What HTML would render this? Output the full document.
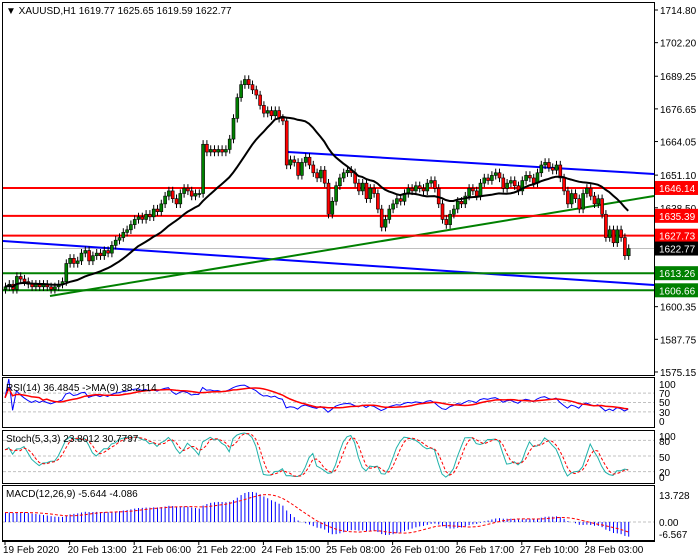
<!DOCTYPE html>
<html><head><meta charset="utf-8"><style>
body{margin:0;background:#fff;}
svg{display:block;font-family:"Liberation Sans",sans-serif;}
</style></head><body>
<svg id="c" width="700" height="560" viewBox="0 0 700 560"></svg>
<script>
const closes=[1608,1609,1607,1612,1611,1610,1609,1608,1609,1608,1609,1608,1607,1608,1609,
1610,1617,1619,1617,1618,1621,1622,1618,1620,1621,1620,1622,1621,1624,1626,
1627,1629,1630,1632,1634,1635,1634,1636,1635,1638,1637,1640,1643,1645,1642,
1640,1644,1646,1645,1643,1644,1644,1663,1660,1661,1660,1661,1660,1661,1665,
1673,1681,1686,1688,1686,1684,1682,1678,1675,1676,1674,1676,1673,1672,1655,
1657,1656,1651,1656,1658,1655,1652,1650,1653,1648,1636,1641,1647,1650,1652,
1653,1652,1648,1645,1648,1642,1646,1644,1638,1631,1634,1638,1640,1642,1641,
1644,1646,1645,1647,1646,1645,1648,1649,1646,1640,1634,1632,1636,1638,1641,
1640,1643,1646,1645,1643,1648,1650,1649,1651,1652,1650,1646,1648,1649,1647,
1645,1649,1651,1650,1648,1652,1655,1656,1654,1653,1655,1650,1645,1640,1644,
1642,1638,1644,1646,1643,1640,1642,1636,1627,1630,1625,1630,1627,1620,1622.77];
const dateLabels=["19 Feb 2020","20 Feb 13:00","21 Feb 06:00","21 Feb 22:00","24 Feb 15:00","25 Feb 08:00","26 Feb 01:00","26 Feb 17:00","27 Feb 10:00","28 Feb 03:00"];
const priceTicks=[1714.80,1702.20,1689.25,1676.65,1664.05,1651.10,1638.50,1625.90,1600.35,1587.75,1575.15];
const redLevels=[1646.14,1635.39,1627.73];
const greenLevels=[1613.26,1606.66];
const lastPrice=1622.77;
const NS="http://www.w3.org/2000/svg";
const svg=document.getElementById('c');
const FS=10;
function el(t,a,p){const e=document.createElementNS(NS,t);for(const k in a)e.setAttribute(k,a[k]);(p||svg).appendChild(e);return e;}
const yP=p=>10+(1714.8-p)*2.592;
const xI=i=>5+i*3.8;
const n=closes.length;
const opens=closes.map((c,i)=>i?closes[i-1]:c-1);
const highs=closes.map((c,i)=>Math.max(c,opens[i])+1.6);
const lows=closes.map((c,i)=>Math.min(c,opens[i])-1.6);

const panels=[[2,2,375,'main-panel'],[2,377,427,'rsi-panel'],[2,430,483,'stoch-panel'],[2,485,540,'macd-panel']];
panels.forEach(p=>{const r=el('rect',{x:2.5,y:p[1]+.5,width:652,height:p[2]-p[1],fill:'#fff',stroke:'#000','stroke-width':1});
});
el('line',{x1:2,y1:541.5,x2:655,y2:541.5,stroke:'#000'});

priceTicks.forEach(p=>{const y=yP(p);el('line',{x1:654,y1:y,x2:658,y2:y,stroke:'#000'});
const t=el('text',{x:660,y:y+4,'font-size':FS,fill:'#000'});t.textContent=p.toFixed(2);
});

el('line',{x1:3,y1:yP(lastPrice),x2:654,y2:yP(lastPrice),stroke:'#c0c0c0'});
const g=el('g',{});
el('line',{x1:288,y1:152,x2:654,y2:174,stroke:'#0000ff','stroke-width':2},g);
el('line',{x1:3,y1:241,x2:654,y2:285,stroke:'#0000ff','stroke-width':2},g);
el('line',{x1:50,y1:296,x2:654,y2:196,stroke:'#008000','stroke-width':2},g);
redLevels.forEach(p=>{el('line',{x1:3,y1:yP(p),x2:654,y2:yP(p),stroke:'#ff0000','stroke-width':2},g);});
greenLevels.forEach(p=>{el('line',{x1:3,y1:yP(p),x2:654,y2:yP(p),stroke:'#008000','stroke-width':2},g);});

const cg=el('g',{});
for(let i=0;i<n;i++){const x=xI(i);
el('line',{x1:x+.5,y1:yP(highs[i]),x2:x+.5,y2:yP(lows[i]),stroke:'#000'},cg);
const top=yP(Math.max(opens[i],closes[i])),bot=yP(Math.min(opens[i],closes[i]));
const b=el('rect',{x:x-1,y:top,width:3,height:Math.max(1,bot-top),fill:closes[i]>=opens[i]?'#008000':'#ff0000',stroke:'#000','stroke-width':.6},cg);
}
const ma=closes.map((c,i)=>{const s=closes.slice(Math.max(0,i-19),i+1);return s.reduce((a,b)=>a+b,0)/s.length;});
const mp=el('path',{d:ma.map((v,i)=>(i?'L':'M')+xI(i).toFixed(1)+' '+yP(v).toFixed(1)).join(''),fill:'none',stroke:'#000','stroke-width':2});


function lbl(p,bg,name){const y=yP(p);const r=el('rect',{x:655,y:y-7,width:43,height:14,fill:bg});

const t=el('text',{x:659,y:y+4,'font-size':FS,fill:'#fff'});t.textContent=p.toFixed(2);}
redLevels.forEach(p=>lbl(p,'#ff0000','resistance-label'));
greenLevels.forEach(p=>lbl(p,'#008000','support-label'));
lbl(lastPrice,'#000','last-price-label');

const h=el('text',{x:6,y:14,'font-size':FS,fill:'#000'});h.textContent='\u25BC XAUUSD,H1  1619.77 1625.65 1619.59 1622.77';


let ag=0,al=0;const rsi=[];
for(let i=0;i<n;i++){if(i===0){rsi.push(60);continue;}const d=closes[i]-closes[i-1];const up=Math.max(d,0),dn=Math.max(-d,0);
if(i<=14){ag=(ag*(i-1)+up)/i;al=(al*(i-1)+dn)/i;}else{ag=(ag*13+up)/14;al=(al*13+dn)/14;}
rsi.push(al===0?100:100-100/(1+ag/al));}
const rsiMa=rsi.map((v,i)=>{const s=rsi.slice(Math.max(0,i-8),i+1);return s.reduce((a,b)=>a+b,0)/s.length;});
const yR=v=>426-v*0.47;
[70,50,30].forEach(v=>el('line',{x1:3,y1:yR(v),x2:654,y2:yR(v),stroke:'#c0c0c0','stroke-dasharray':'3,2'}));
[[100,384],[70,393],[50,402],[30,412],[0,421]].forEach(a=>{const t=el('text',{x:659,y:a[1]+4,'font-size':FS});t.textContent=a[0];});
const rp=el('path',{d:rsi.map((v,i)=>(i?'L':'M')+xI(i).toFixed(1)+' '+yR(v).toFixed(1)).join(''),fill:'none',stroke:'#0000ff'});

const rm=el('path',{d:rsiMa.map((v,i)=>(i?'L':'M')+xI(i).toFixed(1)+' '+yR(v).toFixed(1)).join(''),fill:'none',stroke:'#ff0000','stroke-width':1.5});

const rt=el('text',{x:6,y:391,'font-size':FS});rt.textContent='RSI(14) 36.4845  ->MA(9) 38.2114';

const raw=closes.map((c,i)=>{let hh=-1e9,ll=1e9;for(let j=Math.max(0,i-4);j<=i;j++){hh=Math.max(hh,highs[j]);ll=Math.min(ll,lows[j]);}return [c-ll,hh-ll];});
const K=raw.map((r,i)=>{let a=0,b=0;for(let j=Math.max(0,i-2);j<=i;j++){a+=raw[j][0];b+=raw[j][1];}return b?100*a/b:50;});
const D=K.map((v,i)=>{const s=K.slice(Math.max(0,i-2),i+1);return s.reduce((a,b)=>a+b,0)/s.length;});
const yS=v=>482-v*0.52;
[80,50,20].forEach(v=>el('line',{x1:3,y1:yS(v),x2:654,y2:yS(v),stroke:'#c0c0c0','stroke-dasharray':'3,2'}));
[[100,436],[80,441],[50,457],[20,472],[0,477]].forEach(a=>{const t=el('text',{x:659,y:a[1]+4,'font-size':FS});t.textContent=a[0];});
const kp=el('path',{d:K.map((v,i)=>(i?'L':'M')+xI(i).toFixed(1)+' '+yS(v).toFixed(1)).join(''),fill:'none',stroke:'#20b2aa'});

const dp=el('path',{d:D.map((v,i)=>(i?'L':'M')+xI(i).toFixed(1)+' '+yS(v).toFixed(1)).join(''),fill:'none',stroke:'#ff0000','stroke-dasharray':'3,2'});

const st=el('text',{x:6,y:442,'font-size':FS});st.textContent='Stoch(5,3,3) 23.8012 30.7797';

let e12=closes[0]-4,e26=closes[0]-8;const macd=[];
closes.forEach(c=>{e12+= (c-e12)*2/13;e26+=(c-e26)*2/27;macd.push(e12-e26);});
const sig=macd.map((v,i)=>{const s=macd.slice(Math.max(0,i-8),i+1);return s.reduce((a,b)=>a+b,0)/s.length;});
const mx=Math.max(...macd.map(Math.abs));
const yM=v=>522-v*(30/Math.max(mx,1));
el('line',{x1:3,y1:522,x2:654,y2:522,stroke:'#c0c0c0','stroke-dasharray':'3,2'});
const mg=el('g',{});
macd.forEach((v,i)=>{el('line',{x1:xI(i)+.5,y1:522,x2:xI(i)+.5,y2:yM(v),stroke:'#0000ff'},mg);});
const sp=el('path',{d:sig.map((v,i)=>(i?'L':'M')+xI(i).toFixed(1)+' '+yM(v).toFixed(1)).join(''),fill:'none',stroke:'#ff0000','stroke-dasharray':'3,2'});

[['13.728',495],['0.00',522],['-6.567',534]].forEach(a=>{const t=el('text',{x:659,y:a[1]+4,'font-size':FS});t.textContent=a[0];});
const mt=el('text',{x:6,y:497,'font-size':FS});mt.textContent='MACD(12,26,9) -5.644 -4.086';

dateLabels.forEach((d,k)=>{const x=xI(k*17);el('line',{x1:x,y1:541,x2:x,y2:545,stroke:'#000'});
const t=el('text',{x:x-2,y:553,'font-size':FS});t.textContent=d;
});
</script>
</body></html>
